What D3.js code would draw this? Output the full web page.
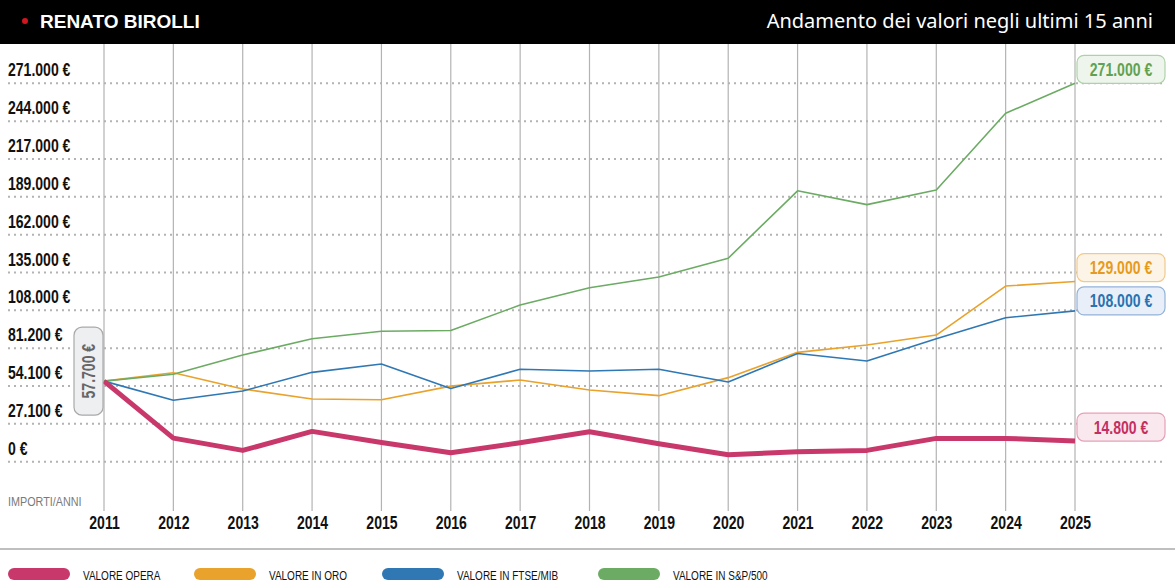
<!DOCTYPE html>
<html>
<head>
<meta charset="utf-8">
<script src="https://cdn.jsdelivr.net/npm/d3@7"></script>
<style>
	body { margin: 0; background: #fff; }
	#chart svg { display: block; }
</style>
</head>
<body>
<div id="chart"></div>
<script>
/**
 * Andamento dei valori - Renato Birolli
 */

// Data
const years = [2011, 2012, 2013, 2014, 2015, 2016, 2017, 2018, 2019, 2020, 2021, 2022, 2023, 2024, 2025];
const valoreOpera = [57700, 16900, 8100, 21700, 13800, 6400, 13600, 21500, 12900, 5000, 7200, 8100, 16700, 16700, 14800];
const valoreOro = [57700, 63700, 52100, 44900, 44400, 54100, 58500, 51300, 47300, 60200, 78300, 83600, 90700, 125800, 129000];
const valoreFtse = [57700, 44000, 50600, 64000, 70000, 52400, 66200, 65000, 66200, 57100, 77500, 72100, 88000, 103100, 108000];
const valoreSp = [57700, 62600, 76400, 88100, 93400, 94000, 112200, 124600, 132300, 145700, 194000, 184100, 194600, 249500, 271000];
const yTickValues = [0, 27100, 54200, 81300, 108400, 135500, 162600, 189700, 216800, 243900, 271000];
const yTickLabels = ["0 €", "27.100 €", "54.100 €", "81.200 €", "108.000 €", "135.000 €",
	"162.000 €", "189.000 €", "217.000 €", "244.000 €", "271.000 €"];
const seriesNames = ["VALORE OPERA", "VALORE IN ORO", "VALORE IN FTSE/MIB", "VALORE IN S&P/500"];

(function (d3) {
	"use strict";

	const width = 1175, height = 588;
	const sans = "'Liberation Sans', Arial, sans-serif";
	// no condensed face installed: squeeze the text horizontally instead
	const squeeze = "scale(0.78,1)";

	const series = [
		{ name: seriesNames[1], values: valoreOro, color: "#e9a22b", text: "#e69a1f", fill: "#fdf4e8", border: "#f2c98a", width: 1.6 },
		{ name: seriesNames[2], values: valoreFtse, color: "#2f78b4", text: "#2a72b0", fill: "#e9eff8", border: "#93b3d9", width: 1.6 },
		{ name: seriesNames[3], values: valoreSp, color: "#6cab64", text: "#5fa257", fill: "#eef5ec", border: "#aed2a8", width: 1.6 },
		{ name: seriesNames[0], values: valoreOpera, color: "#c9386b", text: "#c42f63", fill: "#f9e9ef", border: "#e6a0b8", width: 5 }
	];

	const euro = v => d3.format(",")(v).replace(/,/g, ".") + " €";

	const svg = d3.select("#chart")
		.append("svg")
		.attr("width", width)
		.attr("height", height);

	/*** header ***/
	svg.append("rect")
		.attr("width", width)
		.attr("height", 44)
		.attr("fill", "#000");
	svg.append("circle")
		.attr("cx", 25).attr("cy", 21).attr("r", 3)
		.attr("fill", "#d0161f");
	svg.append("text")
		.attr("x", 40).attr("y", 28)
		.attr("fill", "#fff")
		.style("font", "bold 19px " + sans)
		.text("RENATO BIROLLI");
	svg.append("text")
		.attr("x", 1153).attr("y", 28)
		.attr("text-anchor", "end")
		.attr("fill", "#fff")
		.style("font", "20px 'Noto Sans', sans-serif")
		.text("Andamento dei valori negli ultimi 15 anni");

	/*** scales ***/
	const xScale = d3.scalePoint()
		.domain(years)
		.range([104, 1075]);
	const yScale = d3.scaleLinear()
		.domain([0, 271000])
		.range([461.7, 83.3]);

	/*** grid ***/
	svg.append("g")
		.selectAll("line")
		.data(years)
		.enter().append("line")
		.attr("x1", d => xScale(d)).attr("x2", d => xScale(d))
		.attr("y1", 44).attr("y2", 511)
		.attr("stroke", "#b3b3b3")
		.attr("stroke-width", 1.2);

	svg.append("g")
		.selectAll("line")
		.data(yTickValues)
		.enter().append("line")
		.attr("x1", 8).attr("x2", 1166)
		.attr("y1", d => yScale(d)).attr("y2", d => yScale(d))
		.attr("stroke", "#b3b3b3")
		.attr("stroke-width", 2)
		.attr("stroke-dasharray", "2,4");

	// y labels (placed above each dotted line)
	svg.append("g")
		.selectAll("text")
		.data(yTickValues)
		.enter().append("text")
		.attr("transform", d => "translate(8," + (yScale(d) - 7) + ") " + squeeze)
		.style("font", "bold 18px " + sans)
		.attr("fill", "#111")
		.text((d, i) => yTickLabels[i]);

	svg.append("text")
		.attr("transform", "translate(8,506) scale(0.83,1)")
		.attr("fill", "#7a7a7a")
		.style("font", "13px " + sans)
		.text("IMPORTI/ANNI");

	// x axis
	const xAxis = d3.axisBottom(xScale).tickSize(0).tickPadding(0);
	const xAxisGroup = svg.append("g")
		.attr("transform", "translate(0,529)")
		.call(xAxis);
	xAxisGroup.select(".domain").remove();
	xAxisGroup.selectAll("text")
		.attr("fill", "#111")
		.attr("y", 0)
		.attr("dy", 0)
		.attr("transform", squeeze)
		.style("font", "bold 18px " + sans);

	/*** lines ***/
	const line = d3.line()
		.x((d, i) => xScale(years[i]))
		.y(d => yScale(d));

	svg.append("g")
		.selectAll("path")
		.data(series)
		.enter().append("path")
		.attr("d", d => line(d.values))
		.attr("fill", "none")
		.attr("stroke", d => d.color)
		.attr("stroke-width", d => d.width)
		.attr("stroke-linejoin", "round");

	/*** end labels ***/
	const last = years.length - 1;
	const endLabels = svg.append("g")
		.selectAll("g")
		.data(series)
		.enter().append("g")
		.attr("transform", d => {
			let cy = yScale(d.values[last]) - 14;
			if (d.name === seriesNames[2]) cy += 4; // keep clear of the gold box
			return "translate(1077," + (cy - 14) + ")";
		});
	endLabels.append("rect")
		.attr("width", 88).attr("height", 28)
		.attr("rx", 7)
		.attr("fill", d => d.fill)
		.attr("stroke", d => d.border)
		.attr("stroke-width", 1.2);
	endLabels.append("text")
		.attr("transform", "translate(44,20.5) " + squeeze)
		.attr("text-anchor", "middle")
		.attr("fill", d => d.text)
		.style("font", "bold 18px " + sans)
		.text(d => euro(d.values[last]));

	// start label (rotated)
	const startGroup = svg.append("g")
		.attr("transform", "translate(88.5," + (yScale(valoreOpera[0]) - 10) + ")");
	startGroup.append("rect")
		.attr("x", -14.5).attr("y", -44)
		.attr("width", 29).attr("height", 88)
		.attr("rx", 8)
		.attr("fill", "#eeeff1")
		.attr("stroke", "#a9a9a9")
		.attr("stroke-width", 1.2);
	startGroup.append("text")
		.attr("transform", "rotate(-90) " + squeeze)
		.attr("text-anchor", "middle")
		.attr("dy", "0.36em")
		.attr("fill", "#666")
		.style("font", "bold 18px " + sans)
		.text(euro(valoreOpera[0]));

	/*** legend ***/
	svg.append("line")
		.attr("x1", 0).attr("x2", width)
		.attr("y1", 549).attr("y2", 549)
		.attr("stroke", "#aaa")
		.attr("stroke-width", 1.5);

	const legendOrder = [series[3], series[0], series[1], series[2]];
	const legendX = [8, 194, 382, 598];
	const legend = svg.append("g")
		.selectAll("g")
		.data(legendOrder)
		.enter().append("g")
		.attr("transform", (d, i) => "translate(" + legendX[i] + ",568)");
	legend.append("rect")
		.attr("width", 62).attr("height", 12)
		.attr("rx", 6)
		.attr("fill", d => d.color);
	legend.append("text")
		.attr("transform", "translate(75,11.5) scale(0.74,1)")
		.attr("fill", "#111")
		.style("font", "13.5px " + sans)
		.text(d => d.name);

})(d3);
</script>
</body>
</html>
